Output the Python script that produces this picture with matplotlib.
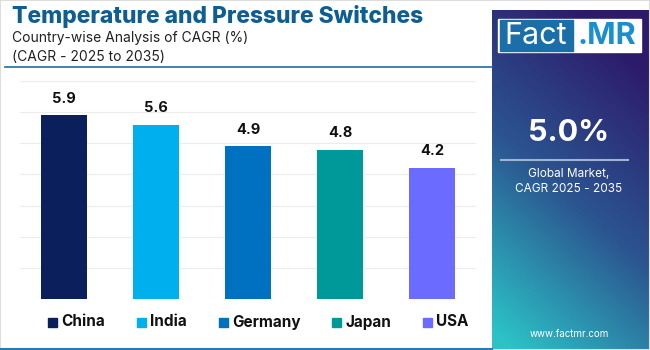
import matplotlib
matplotlib.use("Agg")
import matplotlib.pyplot as plt
import numpy as np
from matplotlib.patches import Rectangle
from matplotlib.lines import Line2D

countries = ["China", "India", "Germany", "Japan", "USA"]
cagr = [5.9, 5.6, 4.9, 4.8, 4.2]
colors = ["#0a1f5c", "#00b0ee", "#0070c0", "#009999", "#6b6bff"]
title = "Temperature and Pressure Switches"
subtitle1 = "Country-wise Analysis of CAGR (%)"
subtitle2 = "(CAGR - 2025 to 2035)"
global_cagr = "5.0%"

W, H = 650, 350
fig = plt.figure(figsize=(6.5, 3.5), dpi=100)
fig.patch.set_facecolor("white")
plt.rcParams["font.family"] = ["Inter", "DejaVu Sans"]

def fx(px):
    return px / W

def fy(py):
    return 1 - py / H

# Main bar axes
ax = fig.add_axes([fx(20), fy(299), fx(476) - fx(20), fy(81) - fy(299)])
x = np.arange(len(countries))
ax.bar(x, cagr, width=0.5, color=colors, zorder=3)
ax.set_ylim(0, 7)
ax.set_xlim(-0.478, 4.478)
ax.set_yticks(np.arange(0, 8, 1))
ax.yaxis.grid(True, color="#ececec", lw=0.8, zorder=0)
ax.tick_params(left=False, bottom=False, labelleft=False, labelbottom=False)
for s in ax.spines.values():
    s.set_visible(False)
for xi, v in zip(x, cagr):
    ax.annotate(f"{v:.1f}", (xi, v), xytext=(0, 7), textcoords="offset points",
                ha="center", va="bottom", fontsize=10.5, fontweight="bold", color="#111111")

# Titles
fig.text(fx(12), fy(17), title, fontsize=16.4, fontweight="heavy", color="#0f5e91",
         ha="left", va="center")
fig.text(fx(12), fy(38), subtitle1, fontsize=10, color="#222222", ha="left", va="center")
fig.text(fx(12), fy(57), subtitle2, fontsize=10, color="#222222", ha="left", va="center")
fig.add_artist(Line2D([fx(5), fx(492)], [fy(66.5), fy(66.5)], color="#1a6fa8", lw=1.2))

# Legend
leg_sq = [48, 137, 219, 332, 423]
for px, c, name in zip(leg_sq, colors, countries):
    fig.add_artist(Rectangle((fx(px), fy(326.5)), fx(9), 9 / H, color=c))
    fig.text(fx(px + 13), fy(322), name, fontsize=11, fontweight="bold", color="#111111",
             ha="left", va="center")

# Right panel gradient
pax = fig.add_axes([fx(492), 0, fx(650) - fx(492), fy(10)])
ny, nx = 200, 100
yy, xx = np.mgrid[0:1:ny * 1j, 0:1:nx * 1j]
t = np.clip(0.85 * yy + 0.35 * (1 - xx) - 0.15, 0, 1)
top = np.array([0x2d, 0x1a, 0x6a]) / 255
mid = np.array([0x2b, 0x55, 0x90]) / 255
bot = np.array([0x2c, 0xc2, 0xc6]) / 255
img = np.zeros((ny, nx, 3))
for k in range(3):
    img[..., k] = np.where(t < 0.5, top[k] + (mid[k] - top[k]) * (t / 0.5),
                           mid[k] + (bot[k] - mid[k]) * ((t - 0.5) / 0.5))
pax.imshow(img, aspect="auto", extent=[0, 1, 1, 0])
pax.set_xlim(0, 1)
pax.set_ylim(1, 0)
pax.axis("off")

# Logo
fig.add_artist(Rectangle((fx(498), fy(52)), fx(641) - fx(498), (52 - 19) / H, color="white"))
fig.add_artist(Rectangle((fx(500), fy(50.5)), fx(573) - fx(500), (50.5 - 20.5) / H, color="#1a6fa8"))
fig.text(fx(536), fy(36), "Fact", fontsize=22, color="white", ha="center", va="center")
fig.text(fx(607), fy(36), ".MR", fontsize=22, fontweight="bold", color="#1a8fd0",
         ha="center", va="center")

fig.text(fx(569), fy(133), global_cagr, fontsize=22, fontweight="bold", color="white",
         ha="center", va="center")
fig.add_artist(Line2D([fx(501), fx(628)], [fy(160), fy(160)], color="#9fb4d0", lw=1.5))
fig.text(fx(569), fy(174), "Global Market,", fontsize=8.5, color="white", ha="center", va="center")
fig.text(fx(569), fy(189), "CAGR 2025 - 2035", fontsize=8.5, color="white", ha="center", va="center")
fig.text(fx(569), fy(334), "www.factmr.com", fontsize=7, color="white", ha="center", va="center")

# bottom line and border
fig.add_artist(Line2D([0, fx(492)], [fy(348.5), fy(348.5)], color="#2a7ab0", lw=1.5))
fig.add_artist(Rectangle((0, 0), 1, 1, fill=False, edgecolor="#dddddd", lw=1.5))

fig.savefig("out.png", dpi=100, facecolor="white")
